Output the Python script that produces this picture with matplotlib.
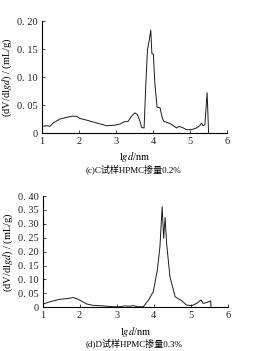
import matplotlib
matplotlib.use('Agg')
import matplotlib.pyplot as plt

plt.rcParams['font.family'] = ['Liberation Serif', 'Noto Sans CJK SC']
plt.rcParams['mathtext.fontset'] = 'stix'

# (c) C sample, HPMC 0.2%
c_x = [1.00, 1.13, 1.22, 1.31, 1.49, 1.67, 1.81, 1.94, 2.03, 2.21, 2.48, 2.75,
       2.97, 3.11, 3.22, 3.33, 3.42, 3.51, 3.58, 3.65, 3.69, 3.76, 3.80, 3.85,
       3.90, 3.94, 3.97, 4.01, 4.05, 4.11, 4.19, 4.25, 4.29, 4.46, 4.64, 4.70,
       4.82, 4.90, 5.04, 5.17, 5.26, 5.31, 5.35, 5.40, 5.46, 5.50]
c_y = [0.012, 0.013, 0.012, 0.018, 0.025, 0.028, 0.030, 0.030, 0.026, 0.023,
       0.018, 0.013, 0.014, 0.016, 0.020, 0.021, 0.030, 0.036, 0.033, 0.021,
       0.010, 0.009, 0.077, 0.148, 0.166, 0.184, 0.142, 0.141, 0.089, 0.046,
       0.045, 0.027, 0.021, 0.017, 0.009, 0.012, 0.009, 0.006, 0.006, 0.009,
       0.013, 0.018, 0.013, 0.015, 0.072, 0.0]

# (d) D sample, HPMC 0.3%
d_x = [1.00, 1.20, 1.47, 1.65, 1.83, 1.96, 2.19, 2.37, 2.64, 2.91, 3.09, 3.23,
       3.36, 3.45, 3.56, 3.72, 3.86, 3.99, 4.10, 4.17, 4.23, 4.27, 4.31, 4.35,
       4.44, 4.58, 4.76, 4.89, 5.03, 5.16, 5.28, 5.34, 5.43, 5.54, 5.55]
d_y = [0.011, 0.020, 0.029, 0.031, 0.035, 0.029, 0.012, 0.007, 0.005, 0.002,
       0.002, 0.005, 0.004, 0.006, 0.002, 0.002, 0.026, 0.056, 0.134, 0.218,
       0.362, 0.248, 0.323, 0.230, 0.110, 0.038, 0.023, 0.008, 0.006, 0.014,
       0.026, 0.014, 0.017, 0.023, 0.0]

c_yticks = [0, 0.05, 0.10, 0.15, 0.20]
c_ylabels = ['0', '0. 05', '0. 10', '0. 15', '0. 20']
d_yticks = [0, 0.05, 0.10, 0.15, 0.20, 0.25, 0.30, 0.35, 0.40]
d_ylabels = ['0', '0. 05', '0. 10', '0. 15', '0. 20', '0. 25', '0. 30',
             '0. 35', '0. 40']
x_ticks = [1, 2, 3, 4, 5, 6]

captions = ['(c)C试样HPMC掺量0.2%', '(d)D试样HPMC掺量0.3%']

fig = plt.figure(figsize=(2.73, 3.51), dpi=100)
ax1 = fig.add_axes([0.153, 0.621, 0.679, 0.319])
ax2 = fig.add_axes([0.156, 0.1245, 0.678, 0.317])

panels = [(ax1, c_x, c_y, c_yticks, c_ylabels, 0.20),
          (ax2, d_x, d_y, d_yticks, d_ylabels, 0.40)]

for i, (ax, xs, ys, yt, yl, ymax) in enumerate(panels):
    ax.plot(xs, ys, color='#1a1a1a', lw=0.7)
    ax.set_xlim(1, 6)
    ax.set_ylim(0, ymax)
    ax.set_xticks(x_ticks)
    ax.set_xticklabels([str(t) for t in x_ticks])
    ax.set_yticks(yt)
    ax.set_yticklabels(yl)
    ax.spines['top'].set_visible(False)
    ax.spines['right'].set_visible(False)
    ax.spines['left'].set_linewidth(0.8)
    ax.spines['bottom'].set_linewidth(0.8)
    ax.tick_params(direction='in', length=2, width=0.6, labelsize=7.5,
                   colors='#222222', pad=3)
    ax.set_ylabel('(dV/dl$\\it{gd}$) / (mL/g)', fontsize=7.5, labelpad=2)
    ax.set_xlabel('l$\\it{gd}$/nm', fontsize=7.5, labelpad=3)

fig.text(0.49, 0.518, captions[0], ha='center', va='center', fontsize=6.5)
fig.text(0.49, 0.023, captions[1], ha='center', va='center', fontsize=6.5)

fig.savefig('out.png', dpi=100)
